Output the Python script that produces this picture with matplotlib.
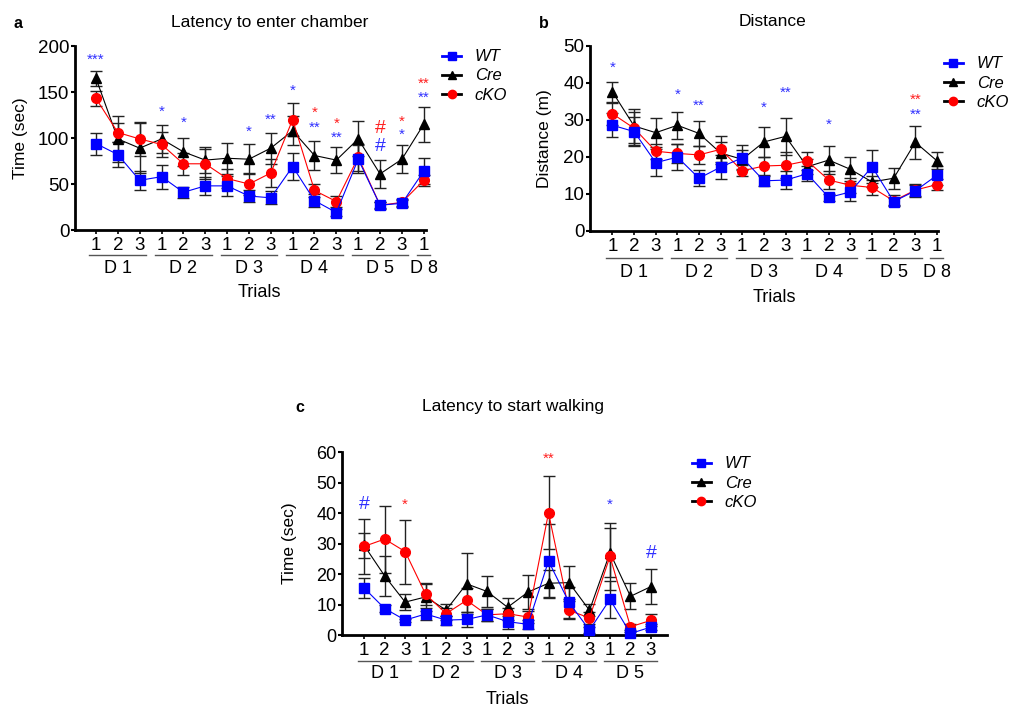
import numpy as np
import matplotlib
matplotlib.use('Agg')
import matplotlib.pyplot as plt
from matplotlib.lines import Line2D
import matplotlib.transforms as mtransforms

plt.rcParams['font.family'] = ['Liberation Sans', 'DejaVu Sans']

# ---- data ----
trials_ab = ['1', '2', '3'] * 5 + ['1']
trials_c = ['1', '2', '3'] * 5
days_ab = [('D 1', 0, 2), ('D 2', 3, 5), ('D 3', 6, 8), ('D 4', 9, 11), ('D 5', 12, 14), ('D 8', 15, 15)]
days_c = [('D 1', 0, 2), ('D 2', 3, 5), ('D 3', 6, 8), ('D 4', 9, 11), ('D 5', 12, 14)]

a_wt = [94, 82, 54, 58, 41, 48, 48, 37, 35, 69, 32, 19, 77, 27, 29, 64]
a_wt_err = [12, 14, 10, 13, 6, 10, 11, 7, 7, 15, 7, 4, 15, 3, 4, 14]
a_cre = [165, 99, 89, 99, 85, 76, 78, 77, 89, 108, 81, 76, 99, 61, 77, 115]
a_cre_err = [8, 25, 27, 15, 15, 14, 17, 16, 17, 16, 16, 14, 19, 15, 15, 19]
a_cko = [143, 106, 99, 93, 72, 72, 56, 50, 62, 120, 43, 31, 79, 27, 30, 54]
a_cko_err = [8, 10, 18, 14, 12, 16, 10, 12, 15, 18, 7, 6, 15, 4, 4, 6]

b_wt = [28.5, 26.8, 18.4, 19.9, 14.2, 17.2, 19.7, 13.5, 13.7, 15.4, 9.0, 10.5, 17.3, 7.9, 10.8, 15.0]
b_wt_err = [3.2, 4, 3.7, 3.5, 2.2, 3.3, 3.4, 1.3, 2.5, 2, 1, 2.4, 4.5, 1, 1.8, 2.5]
b_cre = [37.5, 28.3, 26.5, 28.5, 26.3, 21.0, 19.3, 24.0, 25.5, 17.3, 19.1, 16.6, 13.2, 14.2, 23.9, 18.9]
b_cre_err = [2.7, 4.5, 4, 3.7, 3.4, 3, 2.5, 4, 5, 2, 3.8, 3.2, 1.5, 2.8, 4.5, 2.3]
b_cko = [31.6, 27.7, 21.5, 20.9, 20.5, 22.0, 16.2, 17.5, 17.7, 18.9, 13.7, 12.3, 11.7, 8.1, 11.0, 12.5]
b_cko_err = [3, 4.5, 2, 2.5, 2.5, 3.5, 1.5, 2.5, 3.5, 2.5, 2.5, 2, 2, 1.5, 1.5, 1.5]

c_wt = [15.4, 8.7, 4.9, 6.9, 4.9, 5.1, 6.6, 4.4, 3.5, 24.3, 10.7, 1.6, 11.7, 0.5, 2.6]
c_wt_err = [3.3, 1, 0.5, 2, 1.5, 2.5, 2, 2.5, 1.5, 12, 5, 1, 6, 0.5, 1]
c_cre = [29.4, 19.4, 10.8, 12.5, 8.2, 16.8, 14.3, 9.1, 14.1, 17.0, 17.2, 8.1, 27.0, 12.7, 15.9]
c_cre_err = [4, 6.5, 2.5, 4.5, 2, 10, 5, 3, 5.5, 4.5, 5.5, 2, 8, 4.3, 5.7]
c_cko = [29.1, 31.5, 27.4, 13.4, 7.0, 11.4, 6.6, 7.0, 5.9, 40.1, 8.1, 5.6, 25.8, 2.7, 4.8]
c_cko_err = [9, 11, 10.5, 3.5, 2, 4, 2, 2, 2, 12, 3, 2, 11, 1, 2]

# significance marks: (trial index, y, text, colour)
a_marks = [(0, 185, '***', 'b'), (3, 128, '*', 'b'), (4, 117, '*', 'b'), (7, 107, '*', 'b'),
           (8, 120, '**', 'b'), (9, 151, '*', 'b'), (10, 127, '*', 'r'), (10, 111, '**', 'b'),
           (11, 115, '*', 'r'), (11, 100, '**', 'b'), (13, 110, '#', 'r'), (13, 91, '#', 'b'),
           (14, 118, '*', 'r'), (14, 103, '*', 'b'), (15, 159, '**', 'r'), (15, 144, '**', 'b')]
b_marks = [(0, 43.9, '*', 'b'), (3, 36.7, '*', 'b'), (4, 33.7, '**', 'b'), (7, 33.2, '*', 'b'),
           (8, 37.3, '**', 'b'), (10, 28.5, '*', 'b'), (14, 35.5, '**', 'r'), (14, 31.4, '**', 'b')]
c_marks = [(0, 42.7, '#', 'b'), (2, 42.9, '*', 'r'), (9, 57.8, '**', 'r'), (12, 42.9, '*', 'b'),
           (14, 26.6, '#', 'b')]

mark_colors = {'b': '#3030ff', 'r': '#ff2020'}
BLUE = '#0000ff'
RED = '#ff0000'


def draw_panel(ax, wt, wt_err, cre, cre_err, cko, cko_err, ymax, ystep, xlim,
               trials, days, marks, ylabel, lab_pos, ytick_fs):
    x = np.arange(len(wt))
    for y, e in [(wt, wt_err), (cre, cre_err), (cko, cko_err)]:
        ax.errorbar(x, y, yerr=e, fmt='none', ecolor='#222222', elinewidth=1,
                    capsize=4, capthick=1, clip_on=False, zorder=2)
    ax.plot(x, cre, '-', color='black', lw=0.8, marker='^', ms=6.5, clip_on=False, zorder=3)
    ax.plot(x, cko, '-', color=RED, lw=0.8, marker='o', ms=7, clip_on=False, zorder=4)
    ax.plot(x, wt, '-', color=BLUE, lw=0.8, marker='s', ms=6.5, clip_on=False, zorder=5)

    for i, yv, txt, c in marks:
        fs = 14 if txt == '#' else 11
        ax.text(i, yv, txt, color=mark_colors[c], fontsize=fs, ha='center', va='center')

    ax.set_xlim(*xlim)
    ax.set_ylim(0, ymax)
    ax.set_yticks(np.arange(0, ymax + 1, ystep))
    ax.set_xticks(x)
    ax.set_xticklabels(trials, fontsize=13.5)
    ax.tick_params(axis='y', labelsize=ytick_fs, width=1.5, length=3, pad=1)
    ax.tick_params(axis='x', width=1.2, length=3, pad=2)
    for s in ['top', 'right']:
        ax.spines[s].set_visible(False)
    for s in ['left', 'bottom']:
        ax.spines[s].set_linewidth(2)

    trans = mtransforms.blended_transform_factory(ax.transData, ax.transAxes)
    line_y, day_y, trial_y = lab_pos
    for name, i0, i1 in days:
        ax.plot([i0 - 0.3, i1 + 0.3], [line_y, line_y], color='#555555', lw=1,
                transform=trans, clip_on=False)
        ax.text((i0 + i1) / 2, day_y, name, fontsize=13, ha='center', va='center',
                transform=trans)
    ax.text((len(wt) - 1) / 2, trial_y, 'Trials', fontsize=13, ha='center', va='center',
            transform=trans)
    ax.set_ylabel(ylabel, fontsize=12.5)


fig = plt.figure(figsize=(10.12, 7.08), dpi=100)

ax1 = fig.add_axes([0.0741, 0.6751, 0.3468, 0.2599])
draw_panel(ax1, a_wt, a_wt_err, a_cre, a_cre_err, a_cko, a_cko_err, 200, 50, (-0.96, 15.1),
           trials_ab, days_ab, a_marks, 'Time (sec)', (-0.136, -0.207, -0.342), 13.5)
ax1.yaxis.set_label_coords(-0.135, 0.5)

ax2 = fig.add_axes([0.583, 0.674, 0.3439, 0.2615])
draw_panel(ax2, b_wt, b_wt_err, b_cre, b_cre_err, b_cko, b_cko_err, 50, 10, (-1.04, 15.05),
           trials_ab, days_ab, b_marks, 'Distance (m)', (-0.149, -0.224, -0.362), 13.5)
ax2.yaxis.set_label_coords(-0.109, 0.5)

ax3 = fig.add_axes([0.3382, 0.1031, 0.3206, 0.2581])
draw_panel(ax3, c_wt, c_wt_err, c_cre, c_cre_err, c_cko, c_cko_err, 60, 10, (-1.07, 14.77),
           trials_c, days_c, c_marks, 'Time (sec)', (-0.141, -0.213, -0.352), 13)
ax3.yaxis.set_label_coords(-0.14, 0.5)

# legends
handles = [Line2D([], [], color=BLUE, lw=2, marker='s', ms=6),
           Line2D([], [], color='black', lw=2, marker='^', ms=6),
           Line2D([], [], color='black', lw=2, marker='o', mfc=RED, mec=RED, ms=6)]
names = ['WT', 'Cre', 'cKO']
for ax, (lx, ly) in [(ax1, (434, 41)), (ax2, (936, 48)), (ax3, (684, 448))]:
    leg = ax.legend(handles, names, loc='upper left', bbox_to_anchor=(lx / 1012, 1 - ly / 708),
                    bbox_transform=fig.transFigure, frameon=False, borderpad=0,
                    handlelength=1.1, handletextpad=0.85, labelspacing=0.25,
                    prop={'style': 'italic', 'size': 12})

# titles and panel letters
fig.text(270 / 1012, 1 - 22 / 708, 'Latency to enter chamber', fontsize=12.5, ha='center', va='center')
fig.text(773 / 1012, 1 - 22 / 708, 'Distance', fontsize=12.5, ha='center', va='center')
fig.text(513 / 1012, 1 - 407 / 708, 'Latency to start walking', fontsize=12.5, ha='center', va='center')
fig.text(18 / 1012, 1 - 24 / 708, 'a', fontsize=11.5, fontweight='bold', ha='center', va='center')
fig.text(544 / 1012, 1 - 24 / 708, 'b', fontsize=11.5, fontweight='bold', ha='center', va='center')
fig.text(300 / 1012, 1 - 408 / 708, 'c', fontsize=11.5, fontweight='bold', ha='center', va='center')

fig.savefig('out.png', dpi=100)
